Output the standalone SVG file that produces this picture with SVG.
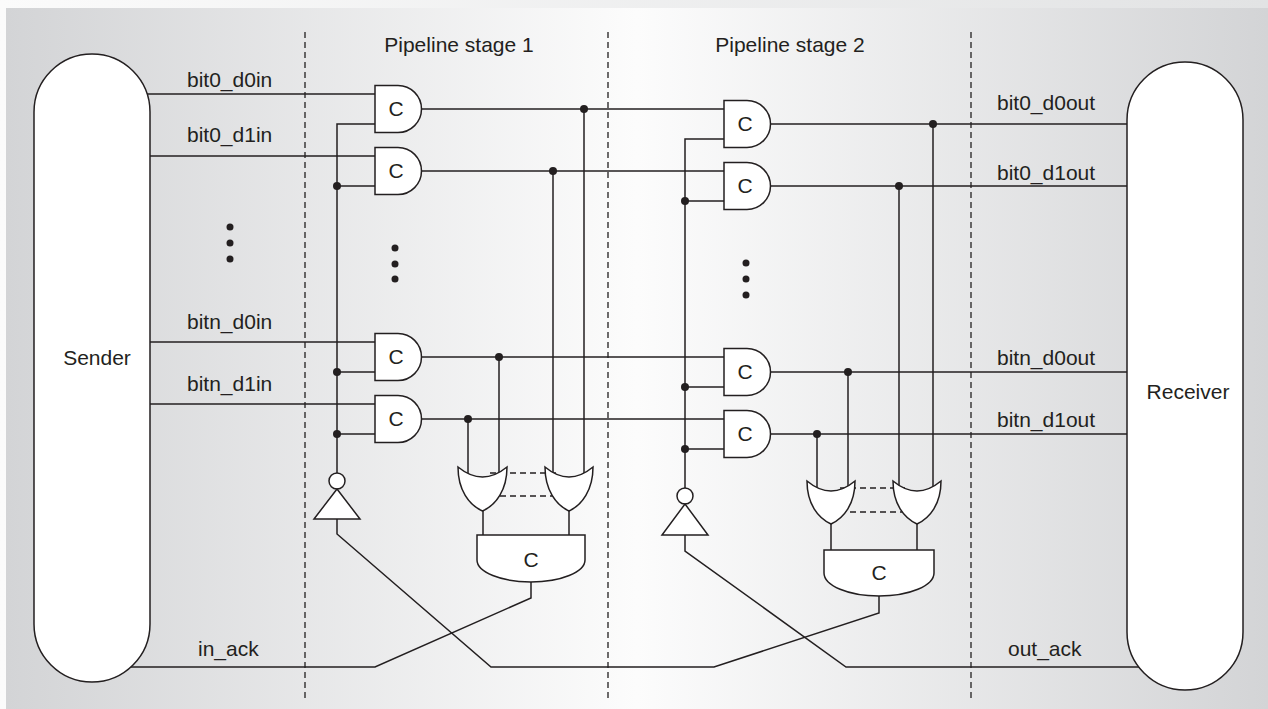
<svg xmlns="http://www.w3.org/2000/svg" width="1268" height="709" viewBox="0 0 1268 709">
<defs>
<linearGradient id="bg" x1="0" y1="0" x2="1" y2="0">
<stop offset="0" stop-color="#d3d4d6"/>
<stop offset="0.5" stop-color="#fcfcfc"/>
<stop offset="1" stop-color="#d3d4d6"/>
</linearGradient>
<linearGradient id="topbg" x1="0" y1="0" x2="1" y2="0">
<stop offset="0" stop-color="#fbfbfb"/>
<stop offset="1" stop-color="#e2e3e4"/>
</linearGradient>
<style>
.w{stroke:#231f20;stroke-width:1.5;fill:none}
.g{stroke:#231f20;stroke-width:1.5;fill:#fff}
.d{stroke:#231f20;stroke-width:1.3;fill:none;stroke-dasharray:6 4}
.dot{fill:#231f20}
text{font-family:"Liberation Sans",Arial,Helvetica,sans-serif;font-size:21px;fill:#231f20}
.m{text-anchor:middle}
</style>
</defs>
<rect x="0" y="0" width="1268" height="709" fill="url(#topbg)"/>
<rect x="6" y="8" width="1262" height="701" fill="url(#bg)"/>

<g id="stage-dividers">
<line class="d" x1="305" y1="32" x2="305" y2="700"/>
<line class="d" x1="608" y1="32" x2="608" y2="700"/>
<line class="d" x1="971" y1="32" x2="971" y2="700"/>
</g>
<g id="stage-labels">
<text class="m" x="459" y="52">Pipeline stage 1</text>
<text class="m" x="790" y="52">Pipeline stage 2</text>
</g>

<g id="connectors">
<polyline class="w" points="140,94 376,94"/>
<polyline class="w" points="140,156 376,156"/>
<polyline class="w" points="140,342 376,342"/>
<polyline class="w" points="140,404 376,404"/>
<polyline class="w" points="376,124 337,124 337,474"/>
<line class="w" x1="337" y1="186" x2="376" y2="186"/>
<line class="w" x1="337" y1="372" x2="376" y2="372"/>
<line class="w" x1="337" y1="434" x2="376" y2="434"/>
<line class="w" x1="420" y1="109" x2="725" y2="109"/>
<line class="w" x1="420" y1="171" x2="725" y2="171"/>
<line class="w" x1="420" y1="357" x2="725" y2="357"/>
<line class="w" x1="420" y1="419" x2="725" y2="419"/>
<line class="w" x1="584" y1="109" x2="584" y2="480"/>
<line class="w" x1="553" y1="171" x2="553" y2="480"/>
<line class="w" x1="499" y1="357" x2="499" y2="480"/>
<line class="w" x1="468" y1="419" x2="468" y2="480"/>
<line class="d" x1="490" y1="473" x2="560" y2="473"/>
<line class="d" x1="490" y1="496" x2="560" y2="496"/>
<line class="w" x1="483" y1="505" x2="483" y2="536"/>
<line class="w" x1="569" y1="505" x2="569" y2="536"/>
<polyline class="w" points="725,139 685,139 685,489"/>
<line class="w" x1="685" y1="201" x2="725" y2="201"/>
<line class="w" x1="685" y1="387" x2="725" y2="387"/>
<line class="w" x1="685" y1="449" x2="725" y2="449"/>
<line class="w" x1="768" y1="124" x2="1140" y2="124"/>
<line class="w" x1="768" y1="186" x2="1140" y2="186"/>
<line class="w" x1="768" y1="372" x2="1140" y2="372"/>
<line class="w" x1="768" y1="434" x2="1140" y2="434"/>
<line class="w" x1="933" y1="124" x2="933" y2="494"/>
<line class="w" x1="899" y1="186" x2="899" y2="494"/>
<line class="w" x1="848" y1="372" x2="848" y2="494"/>
<line class="w" x1="817" y1="434" x2="817" y2="494"/>
<line class="d" x1="840" y1="488" x2="905" y2="488"/>
<line class="d" x1="840" y1="512" x2="905" y2="512"/>
<line class="w" x1="831" y1="518" x2="831" y2="551"/>
<line class="w" x1="917" y1="518" x2="917" y2="551"/>
<polyline class="w" points="531,580 531,598 375,667 120,667"/>
<polyline class="w" points="337,518 337,534 491,667 714,667 879,613 879,594"/>
<polyline class="w" points="685,534 685,551 846,667 1150,667"/>
<circle class="dot" cx="337" cy="186" r="4"/>
<circle class="dot" cx="337" cy="372" r="4"/>
<circle class="dot" cx="337" cy="434" r="4"/>
<circle class="dot" cx="584" cy="109" r="4"/>
<circle class="dot" cx="553" cy="171" r="4"/>
<circle class="dot" cx="499" cy="357" r="4"/>
<circle class="dot" cx="468" cy="419" r="4"/>
<circle class="dot" cx="685" cy="201" r="4"/>
<circle class="dot" cx="685" cy="387" r="4"/>
<circle class="dot" cx="685" cy="449" r="4"/>
<circle class="dot" cx="933" cy="124" r="4"/>
<circle class="dot" cx="899" cy="186" r="4"/>
<circle class="dot" cx="848" cy="372" r="4"/>
<circle class="dot" cx="817" cy="434" r="4"/>
</g>

<g id="ellipsis">
<circle class="dot" cx="230" cy="227" r="3.5"/>
<circle class="dot" cx="230" cy="243" r="3.5"/>
<circle class="dot" cx="230" cy="259" r="3.5"/>
<circle class="dot" cx="395" cy="248" r="3.5"/>
<circle class="dot" cx="395" cy="264" r="3.5"/>
<circle class="dot" cx="395" cy="279" r="3.5"/>
<circle class="dot" cx="746" cy="263" r="3.5"/>
<circle class="dot" cx="746" cy="279" r="3.5"/>
<circle class="dot" cx="746" cy="295" r="3.5"/>
</g>

<g id="signal-labels">
<text x="187" y="87">bit0_d0in</text>
<text x="187" y="142">bit0_d1in</text>
<text x="187" y="329">bitn_d0in</text>
<text x="187" y="391">bitn_d1in</text>
<text x="198" y="656">in_ack</text>
<text x="997" y="110">bit0_d0out</text>
<text x="997" y="180">bit0_d1out</text>
<text x="997" y="365">bitn_d0out</text>
<text x="997" y="427">bitn_d1out</text>
<text x="1008" y="656">out_ack</text>
</g>

<g id="sender">
<path class="g" d="M34,112 A58,58 0 0 1 150,112 V624 A58,58 0 0 1 34,624 Z"/>
<text class="m" x="97" y="365">Sender</text>
</g>
<g id="receiver">
<path class="g" d="M1127,120 A58,58 0 0 1 1243,120 V632 A58,58 0 0 1 1127,632 Z"/>
<text class="m" x="1188" y="399">Receiver</text>
</g>

<g id="s1-c0">
<path class="g" d="M375,85.5 H398 A23.5,23.5 0 0 1 398,132.5 H375 Z"/>
<text class="m" x="396" y="116">C</text>
</g>
<g id="s1-c1">
<path class="g" d="M375,147.5 H398 A23.5,23.5 0 0 1 398,194.5 H375 Z"/>
<text class="m" x="396" y="178">C</text>
</g>
<g id="s1-c2">
<path class="g" d="M375,333.5 H398 A23.5,23.5 0 0 1 398,380.5 H375 Z"/>
<text class="m" x="396" y="364">C</text>
</g>
<g id="s1-c3">
<path class="g" d="M375,395.5 H398 A23.5,23.5 0 0 1 398,442.5 H375 Z"/>
<text class="m" x="396" y="426">C</text>
</g>
<g id="s1-inv">
<circle class="g" cx="337" cy="481" r="8"/>
<path class="g" d="M337,489 L360,519 L314,519 Z"/>
</g>
<g id="s1-or0">
<path class="g" d="M458,467 Q482.5,487 507,467 C507,490 496,505 482.5,511 C469,505 458,490 458,467 Z"/>
</g>
<g id="s1-or1">
<path class="g" d="M545,467 Q569,487 593,467 C593,490 582,505 569,511 C556,505 545,490 545,467 Z"/>
</g>
<g id="s1-cdone">
<path class="g" d="M477,535 H585 V560 A54,22 0 0 1 477,560 Z"/>
<text class="m" x="531" y="567">C</text>
</g>

<g id="s2-c0">
<path class="g" d="M724,100.5 H747 A23.5,23.5 0 0 1 747,147.5 H724 Z"/>
<text class="m" x="745" y="131">C</text>
</g>
<g id="s2-c1">
<path class="g" d="M724,162.5 H747 A23.5,23.5 0 0 1 747,209.5 H724 Z"/>
<text class="m" x="745" y="193">C</text>
</g>
<g id="s2-c2">
<path class="g" d="M724,348.5 H747 A23.5,23.5 0 0 1 747,395.5 H724 Z"/>
<text class="m" x="745" y="379">C</text>
</g>
<g id="s2-c3">
<path class="g" d="M724,410.5 H747 A23.5,23.5 0 0 1 747,457.5 H724 Z"/>
<text class="m" x="745" y="441">C</text>
</g>
<g id="s2-inv">
<circle class="g" cx="685" cy="496" r="8"/>
<path class="g" d="M685,504 L708,535 L662,535 Z"/>
</g>
<g id="s2-or0">
<path class="g" d="M807,481 Q831,501 855,481 C855,504 844,518 831,524 C818,518 807,504 807,481 Z"/>
</g>
<g id="s2-or1">
<path class="g" d="M893,481 Q917,501 941,481 C941,504 930,518 917,524 C904,518 893,504 893,481 Z"/>
</g>
<g id="s2-cdone">
<path class="g" d="M824,550 H934 V573 A55,23 0 0 1 824,573 Z"/>
<text class="m" x="879" y="580">C</text>
</g>
</svg>
